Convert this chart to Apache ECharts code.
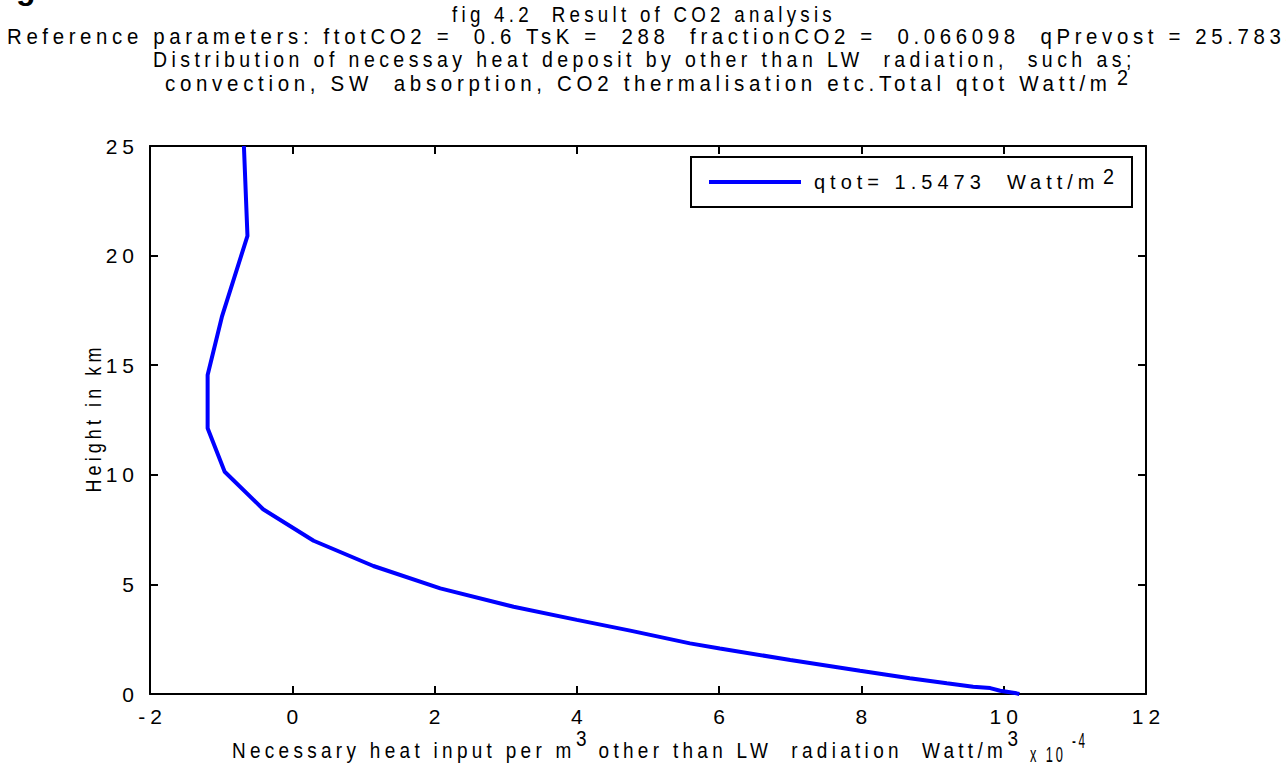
<!DOCTYPE html>
<html>
<head>
<meta charset="utf-8">
<script src="https://cdn.jsdelivr.net/npm/echarts@6/dist/echarts.min.js"></script>
<style>
html, body { margin: 0; padding: 0; background: #fff; }
#chart { width: 1286px; height: 767px; }
/* matlab style wide letter spacing, keep double spaces */
#chart text { letter-spacing: 5px; white-space: pre; }
</style>
</head>
<body>
<div id="chart"></div>
<script>
// heat input (x 10^-4 W/m3) and height (km), top to bottom
const heatInput = [-0.68, -0.63, -0.99, -1.19, -1.19, -0.95, -0.41, 0.30, 1.14, 2.08, 3.11, 4.00, 4.75, 5.59, 6.01, 7.00, 7.98, 8.68, 9.20, 9.57, 9.81, 9.95, 10.18, 10.22];
const heightKm  = [25.0, 20.9, 17.2, 14.55, 12.12, 10.14, 8.43, 6.99, 5.84, 4.82, 3.98, 3.38, 2.89, 2.31, 2.08, 1.55, 1.06, 0.72, 0.49, 0.33, 0.27, 0.15, 0.03, 0.0];
const xTicks = [-2, 0, 2, 4, 6, 8, 10, 12];
const yTicks = [0, 5, 10, 15, 20, 25];
const legendName = 'qtot= 1.5473  Watt/m';

const FAM = '"Liberation Sans", Arial, sans-serif';
const FS = 22;   // titles / axis names
const TFS = 21;  // tick labels
const LFS = 20;  // legend
const LS = 5;

const mctx = document.createElement('canvas').getContext('2d');
function rawW(s, fs) {
  mctx.font = fs + 'px ' + FAM;
  return mctx.measureText(s).width;
}
function visW(s, fs) {
  return rawW(s, fs) + LS * (s.length - 1);
}

function textEl(t, x, y, sx, extra) {
  return Object.assign({
    type: 'text', x: x, y: y, scaleX: sx, z: 100, silent: true,
    style: {
      text: t, fontSize: FS, fontFamily: FAM, fill: '#000',
      align: 'left', verticalAlign: 'middle',
      textAlign: 'left', textVerticalAlign: 'middle'
    }
  }, extra || {});
}

// text squeezed a little to look like the narrow matlab font
function piece(t, left, y, right) {
  const sx = right != null ? (right - left) / visW(t, FS) : 0.9;
  return textEl(t, left, y, sx);
}

// several pieces (with raised superscripts) fitted together between left and right
function chain(segs, left, right, y) {
  let total = 0;
  segs.forEach(s => { total += visW(s.t, FS) + (s.gap || 0); });
  const sx = (right - left) / total;
  let x = left;
  return segs.map(s => {
    x += (s.gap || 0) * sx;
    const el = textEl(s.t, x, y + (s.dy || 0), sx);
    x += visW(s.t, FS) * sx;
    return el;
  });
}

const chart = echarts.init(document.getElementById('chart'), null, { renderer: 'svg' });

const lgLeft = 691, lgPadL = 18, lgTextGap = 13;
const lgPadR = 441 - (lgPadL + 92 + lgTextGap + rawW(legendName, LFS));

let graphics = [
  {
    type: 'text', x: 16, y: -12, silent: true,
    style: { text: 'g', fontSize: 32, fontWeight: 'bold', fontFamily: FAM, fill: '#000',
      align: 'left', verticalAlign: 'middle', textAlign: 'left', textVerticalAlign: 'middle' }
  },
  piece('fig 4.2  Result of CO2 analysis', 452, 14, 832),
  piece('Reference parameters: ftotCO2 =  0.6 TsK =  288  fractionCO2 =  0.066098  qPrevost = 25.7833', 7, 36, 1297),
  piece('Distribution of necessay heat deposit by other than LW  radiation,  such as;', 153, 59, 1132),
  piece('convection, SW  absorption, CO2 thermalisation etc.Total qtot Watt/m', 165, 84, 1108),
  piece('2', 1117, 77),
  piece('x 10', 1030, 755, 1063),
  piece('-4', 1072, 740, 1085),
  piece('2', 1103, 176),
  Object.assign(piece('Height in km', 0, 0, 145), {
    x: 93, y: 418, rotation: Math.PI / 2,
    style: { text: 'Height in km', fontSize: FS, fontFamily: FAM, fill: '#000',
      align: 'center', verticalAlign: 'middle', textAlign: 'center', textVerticalAlign: 'middle' }
  })
];
graphics = graphics.concat(chain([
  { t: 'Necessary heat input per m' },
  { t: '3', dy: -12, gap: 5 },
  { t: 'other than LW  radiation  Watt/m', gap: 14 },
  { t: '3', dy: -12, gap: 5 }
], 232, 1018, 750));

const axisBase = {
  type: 'value',
  axisLine: { show: true, onZero: false, lineStyle: { color: '#000', width: 2 } },
  axisTick: { show: true, inside: true, length: 8, lineStyle: { color: '#000', width: 2 } },
  splitLine: { show: false }
};

const option = {
  animation: false,
  backgroundColor: '#fff',
  textStyle: { fontFamily: FAM },
  grid: { left: 150, right: 140, top: 146, bottom: 73, containLabel: false },
  legend: {
    left: lgLeft, top: 157,
    itemWidth: 92, itemHeight: 4,
    padding: [15, lgPadR, 15, lgPadL],
    borderColor: '#000', borderWidth: 2, borderRadius: 0,
    backgroundColor: '#fff',
    itemGap: 0,
    textStyle: { fontSize: LFS, fontFamily: FAM, color: '#000', padding: [0, 0, 0, lgTextGap - 5] },
    data: [{ name: legendName, icon: 'rect' }]
  },
  xAxis: [
    Object.assign({}, axisBase, {
      position: 'bottom', min: xTicks[0], max: xTicks[xTicks.length - 1], interval: 2,
      axisLabel: { color: '#000', fontSize: TFS, fontFamily: FAM, margin: 12, padding: [0, 0, 0, LS] }
    }),
    Object.assign({}, axisBase, {
      position: 'top', min: xTicks[0], max: xTicks[xTicks.length - 1], interval: 2,
      axisLabel: { show: false }
    })
  ],
  yAxis: [
    Object.assign({}, axisBase, {
      position: 'left', min: yTicks[0], max: yTicks[yTicks.length - 1], interval: 5,
      axisLabel: { color: '#000', fontSize: TFS, fontFamily: FAM, margin: 11 }
    }),
    Object.assign({}, axisBase, {
      position: 'right', min: yTicks[0], max: yTicks[yTicks.length - 1], interval: 5,
      axisLabel: { show: false }
    })
  ],
  series: [{
    name: legendName,
    type: 'line',
    xAxisIndex: 0, yAxisIndex: 0,
    data: heatInput.map((v, i) => [v, heightKm[i]]),
    symbol: 'none',
    clip: true,
    lineStyle: { color: '#0000ff', width: 4 },
    itemStyle: { color: '#0000ff' }
  }],
  graphic: graphics
};

chart.setOption(option);
</script>
</body>
</html>
